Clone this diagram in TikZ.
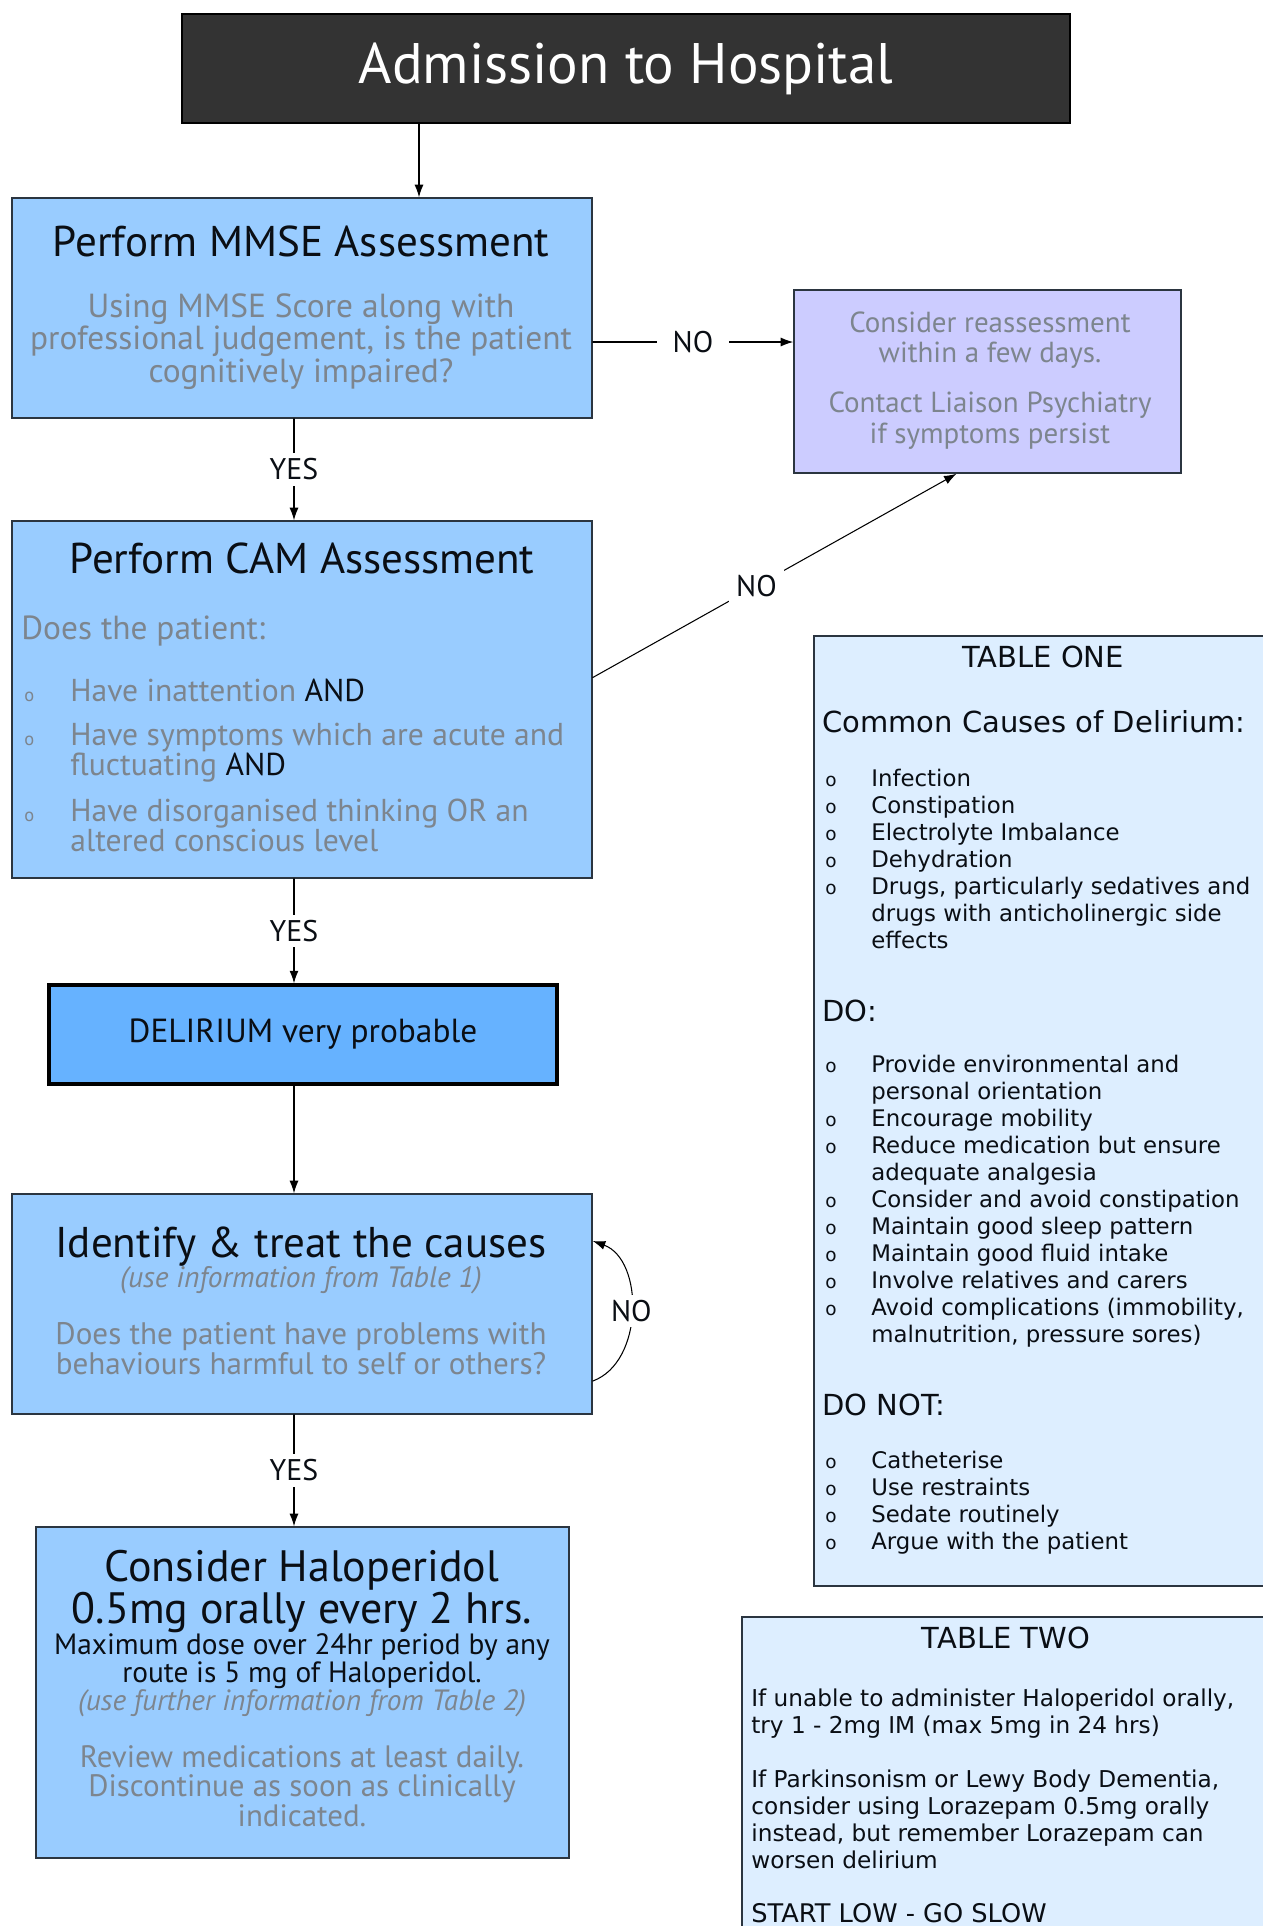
\documentclass[tikz,border=0pt]{standalone}
\usepackage{fontspec}
\setmainfont{PT Sans}
\newfontfamily\tabfont{DejaVu Sans}
\usetikzlibrary{calc,arrows.meta,positioning}
\definecolor{boxblue}{HTML}{99CCFF}
\definecolor{deepblue}{HTML}{66B2FF}
\definecolor{lilac}{HTML}{CCCCFF}
\definecolor{paleblue}{HTML}{DDEEFF}
\definecolor{charcoal}{HTML}{333333}
\definecolor{rim}{HTML}{2B3540}
\definecolor{softgrey}{HTML}{7D858E}
\definecolor{ink}{HTML}{0A0E14}
\newlength{\pxu}\setlength{\pxu}{0.2mm}
\newcommand{\fs}[2]{\fontsize{#1}{#2}\selectfont}
% blocks of lines: size, skip, text
\newcommand{\cblock}[3]{\parbox[t]{620\pxu}{\centering\fs{#1}{#2}\lineskiplimit=-100pt #3}}
\newcommand{\lblock}[3]{\parbox[t]{560\pxu}{\raggedright\fs{#1}{#2}\lineskiplimit=-100pt #3}}
\newcommand{\bul}{{\fontsize{10.5}{10}\selectfont o}}
\newcommand{\bitem}{\makebox[46\pxu][l]{\bul}}
\newcommand{\bpad}{\hspace*{46\pxu}}

\begin{document}
\begin{tikzpicture}[x=0.2mm,y=-0.2mm,
    >={Latex[length=2.5mm,width=1.8mm]},line cap=round,
    flow/.style={draw=rim,fill=boxblue,line width=0.9pt,inner sep=0pt},
    tablebox/.style={draw=rim,fill=paleblue,line width=0.9pt,inner sep=0pt,anchor=north west},
    head/.style={ink,font=\fs{24.5}{27},anchor=base,inner sep=0pt},
    txt/.style={softgrey,anchor=base,inner sep=0pt},
    tabtxt/.style={ink,font=\tabfont,anchor=base west,inner sep=0pt},
    tabhead/.style={ink,font=\tabfont\fs{16.5}{19},anchor=base west,inner sep=0pt},
    arr/.style={->,black,line width=0.6pt},
    lab/.style={fill=white,text=ink,font=\fs{17}{19},inner sep=3pt}]
  \useasboundingbox (0,0) rectangle (1263,1926);
  \clip (0,0) rectangle (1263,1926);
  % --- admission
  \node[draw=black,fill=charcoal,text=white,line width=0.9pt,minimum width=888\pxu,
        minimum height=109\pxu,font=\fs{32.5}{36}] (adm) at (626,68.5) {Admission to Hospital};
  % --- MMSE
  \node[flow,minimum width=580\pxu,minimum height=220\pxu] (mmse) at (302,308) {};
  \node[head] (mmsetitle) at (301,256) {Perform MMSE Assessment};
  \node[txt] (mmseask) at (301,317)
    {\cblock{19}{18.5}{Using MMSE Score along with\\professional judgement, is the patient\\cognitively impaired?}};
  % --- reassessment
  \node[flow,fill=lilac,minimum width=387\pxu,minimum height=183\pxu] (recheck) at (987.5,381.5) {};
  \node[txt] (rechecktxt) at (990,332)
    {\cblock{16.5}{17.6}{Consider reassessment\\within a few days.\\[19\pxu]Contact Liaison Psychiatry\\if symptoms persist}};
  % --- CAM
  \node[flow,minimum width=580\pxu,minimum height=357\pxu] (cam) at (302,699.5) {};
  \node[head] (camtitle) at (302,573) {Perform CAM Assessment};
  \node[txt,anchor=base west,font=\fs{19}{20}] (camq) at (21,639) {Does the patient:};
  \node[txt,anchor=base west] (camlist) at (24,701)
    {\lblock{18}{17}{\bitem Have inattention \textcolor{ink}{AND}\\[15\pxu]
                     \bitem Have symptoms which are acute and\\
                     \bpad fluctuating \textcolor{ink}{AND}\\[16\pxu]
                     \bitem Have disorganised thinking OR an\\
                     \bpad altered conscious level}};
  % --- delirium
  \node[flow,fill=deepblue,draw=black,line width=2pt,minimum width=508\pxu,minimum height=99\pxu,
        font=\fs{19}{21},text=ink] (delir) at (303,1034.5) {DELIRIUM very probable};
  % --- causes
  \node[flow,minimum width=580\pxu,minimum height=220\pxu] (treat) at (302,1304) {};
  \node[head] (treattitle) at (301,1257) {Identify \& treat the causes};
  \node[txt,font=\itshape\fs{16.8}{18}] (treatref) at (301,1287) {(use information from Table 1)};
  \node[txt] (treatask) at (301,1344)
    {\cblock{17.7}{17.6}{Does the patient have problems with\\behaviours harmful to self or others?}};
  % --- haloperidol
  \node[flow,minimum width=533\pxu,minimum height=331\pxu] (halo) at (302.5,1692.5) {};
  \node[txt,ink] (halotitle) at (302,1581)
    {\cblock{25}{24}{Consider Haloperidol\\0.5mg orally every 2 hrs.}};
  \node[txt,ink] (halodose) at (302,1654)
    {\cblock{16.7}{16}{Maximum dose over 24hr period by any\\route is 5 mg of Haloperidol.\\
              \textcolor{softgrey}{\itshape (use further information from Table 2)}}};
  \node[txt] (haloreview) at (302,1767)
    {\cblock{17.6}{17}{Review medications at least daily.\\Discontinue as soon as clinically\\indicated.}};
  % --- table one
  \node[tablebox,minimum width=480\pxu,minimum height=950\pxu] (tabone) at (813,635) {};
  \node[tabhead,anchor=base] (tabonetitle) at (1043,667) {TABLE ONE};
  \node[tabhead] (causeshead) at (822,732) {Common Causes of Delirium:};
  \node[tabtxt] (causes) at (825,786)
    {\lblock{13}{15.4}{\bitem Infection\\ \bitem Constipation\\ \bitem Electrolyte Imbalance\\
                       \bitem Dehydration\\ \bitem Drugs, particularly sedatives and\\
                       \bpad drugs with anticholinergic side\\ \bpad effects}};
  \node[tabhead] (dohead) at (822,1021) {DO:};
  \node[tabtxt] (dolist) at (825,1072)
    {\lblock{13}{15.4}{\bitem Provide environmental and\\ \bpad personal orientation\\
                       \bitem Encourage mobility\\ \bitem Reduce medication but ensure\\
                       \bpad adequate analgesia\\ \bitem Consider and avoid constipation\\
                       \bitem Maintain good sleep pattern\\ \bitem Maintain good fluid intake\\
                       \bitem Involve relatives and carers\\ \bitem Avoid complications (immobility,\\
                       \bpad malnutrition, pressure sores)}};
  \node[tabhead] (donthead) at (822,1415) {DO NOT:};
  \node[tabtxt] (dontlist) at (825,1468)
    {\lblock{13}{15.4}{\bitem Catheterise\\ \bitem Use restraints\\
                       \bitem Sedate routinely\\ \bitem Argue with the patient}};
  % --- table two
  \node[tablebox,minimum width=560\pxu,minimum height=340\pxu] (tabtwo) at (741,1616) {};
  \node[tabhead,anchor=base] (tabtwotitle) at (1006,1648) {TABLE TWO};
  \node[tabtxt] (tabtwotxt) at (751,1706)
    {\lblock{13.2}{15.4}{If unable to administer Haloperidol orally,\\try 1 - 2mg IM (max 5mg in 24 hrs)\\[27\pxu]
              If Parkinsonism or Lewy Body Dementia,\\consider using Lorazepam 0.5mg orally\\
              instead, but remember Lorazepam can\\worsen delirium\\[27\pxu]
              {\fs{14.6}{15.4}START LOW - GO SLOW}}};
  % --- connectors
  \coordinate (entry) at (419,0);
  \coordinate (spine) at (294,0);
  \draw[arr] (adm.south -| entry) -- (mmse.north -| entry);
  \draw[arr] (mmse.south -| spine) -- node[lab]{YES} (cam.north -| spine);
  \draw[arr] (cam.south -| spine) -- node[lab]{YES} (delir.north -| spine);
  \draw[arr] (delir.south -| spine) -- (treat.north -| spine);
  \draw[arr] (treat.south -| spine) -- node[lab]{YES} (halo.north -| spine);
  \draw[arr] (mmse.east) ++(0,34) coordinate (nofrom)
        -- node[lab,inner xsep=3.2mm]{NO} (nofrom -| recheck.west);
  \draw[arr] (cam.east) ++(0,-22) coordinate (camno)
        -- node[lab,pos=0.45,inner sep=1.5mm]{NO} ($(recheck.south)+(-31,0)$);
  \draw[arr] (treat.east) ++(0,77) coordinate (loopfrom)
        to[bend right=70] node[lab]{NO} ($(treat.east)+(0,-63)$);
\end{tikzpicture}
\end{document}
